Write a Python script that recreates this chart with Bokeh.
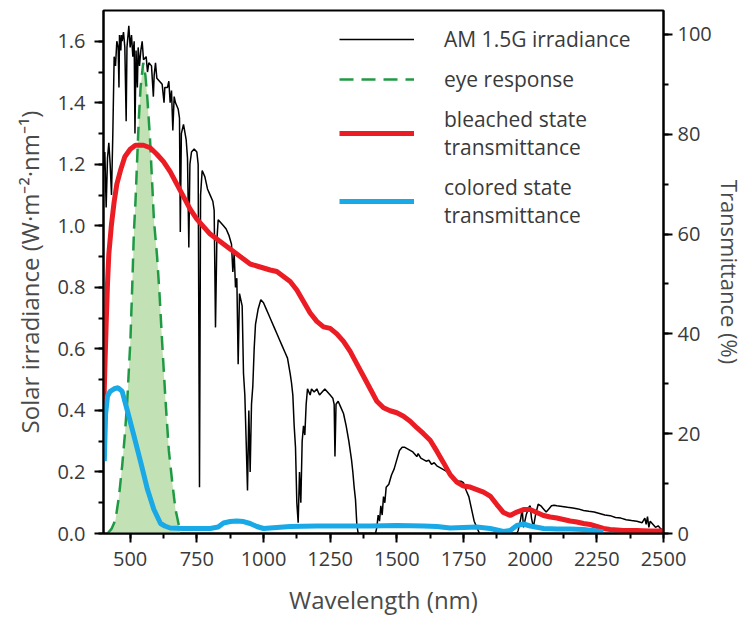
from bokeh.plotting import figure
from bokeh.models import (Range1d, LinearAxis, SingleIntervalTicker, NumeralTickFormatter,
                          Legend, LegendItem)
from bokeh.embed import file_html
from bokeh.resources import INLINE

# AM 1.5G solar irradiance (W m^-2 nm^-1)
am_wl = [400, 405, 410, 415, 420, 425, 430, 435, 440, 445, 450, 455, 458, 460, 465, 467, 470, 475, 480,
         485, 488, 495, 500, 505, 510, 515, 518, 522, 527, 530, 535, 540, 545, 550, 560, 565, 570, 580,
         587, 590, 595, 600, 610, 620, 627, 630, 640, 645, 650, 655, 660, 665, 670, 680, 685, 688, 692,
         700, 710, 715, 720, 724, 730, 740, 750, 755, 760, 764, 770, 780, 790, 800, 810, 815, 820, 825,
         830, 840, 850, 860, 870, 880, 885, 890, 895, 900, 905, 910, 920, 925, 930, 935, 940, 945, 950,
         955, 960, 965, 970, 980, 990, 1000, 1010, 1020, 1030, 1040, 1050, 1060, 1070, 1080, 1090, 1100,
         1105, 1110, 1115, 1120, 1125, 1130, 1135, 1140, 1145, 1150, 1155, 1160, 1165, 1175, 1180, 1190,
         1200, 1210, 1220, 1230, 1240, 1250, 1260, 1265, 1268, 1272, 1280, 1290, 1300, 1310, 1320, 1330,
         1335, 1340, 1345, 1350, 1355, 1400, 1420, 1425, 1430, 1435, 1440, 1445, 1450, 1455, 1460, 1470,
         1480, 1490, 1500, 1510, 1520, 1530, 1540, 1550, 1560, 1570, 1575, 1580, 1590, 1600, 1610, 1620,
         1630, 1640, 1650, 1660, 1670, 1680, 1690, 1700, 1710, 1720, 1730, 1740, 1750, 1760, 1770, 1780,
         1790, 1800, 1810, 1950, 1955, 1965, 1970, 1975, 1985, 1995, 2000, 2005, 2012, 2020, 2030, 2040,
         2050, 2060, 2070, 2080, 2090, 2100, 2120, 2140, 2160, 2180, 2200, 2220, 2240, 2260, 2280, 2300,
         2320, 2340, 2360, 2380, 2400, 2420, 2430, 2435, 2440, 2445, 2450, 2460, 2470, 2480, 2490, 2500]
am_irr = [1.18, 1.24, 1.06, 1.22, 1.27, 1.20, 1.10, 1.30, 1.55, 1.52, 1.60, 1.58, 1.45, 1.62, 1.57, 1.62,
          1.60, 1.63, 1.58, 1.34, 1.58, 1.65, 1.58, 1.62, 1.55, 1.60, 1.30, 1.57, 1.45, 1.58, 1.52, 1.57,
          1.60, 1.54, 1.55, 1.50, 1.53, 1.52, 1.42, 1.49, 1.53, 1.48, 1.47, 1.46, 1.40, 1.45, 1.45, 1.47,
          1.40, 1.44, 1.31, 1.42, 1.40, 1.38, 1.35, 0.98, 1.30, 1.33, 1.28, 1.22, 0.93, 1.20, 1.24, 1.25,
          1.24, 1.20, 0.15, 1.10, 1.18, 1.16, 1.12, 1.10, 1.08, 1.05, 0.67, 0.95, 1.02, 1.01, 1.00, 0.99,
          0.97, 0.94, 0.85, 0.91, 0.80, 0.83, 0.55, 0.78, 0.74, 0.52, 0.45, 0.30, 0.14, 0.40, 0.20, 0.42,
          0.48, 0.60, 0.68, 0.73, 0.76, 0.75, 0.73, 0.71, 0.69, 0.67, 0.65, 0.63, 0.61, 0.59, 0.57, 0.52,
          0.49, 0.45, 0.35, 0.28, 0.10, 0.035, 0.20, 0.10, 0.30, 0.35, 0.32, 0.42, 0.47, 0.45, 0.47, 0.46,
          0.47, 0.45, 0.46, 0.47, 0.46, 0.45, 0.44, 0.42, 0.25, 0.42, 0.43, 0.41, 0.39, 0.35, 0.30, 0.24,
          0.20, 0.15, 0.11, 0.03, 0.0, 0.0, 0.0, 0.02, 0.06, 0.04, 0.09, 0.06, 0.12, 0.10, 0.15, 0.16,
          0.19, 0.21, 0.24, 0.27, 0.28, 0.28, 0.275, 0.27, 0.265, 0.255, 0.25, 0.26, 0.245, 0.24, 0.235,
          0.238, 0.225, 0.23, 0.22, 0.215, 0.21, 0.205, 0.20, 0.185, 0.18, 0.175, 0.17, 0.17, 0.165, 0.14,
          0.12, 0.08, 0.04, 0.02, 0.0, 0.0, 0.01, 0.05, 0.08, 0.02, 0.06, 0.085, 0.09, 0.05, 0.02, 0.06,
          0.095, 0.09, 0.08, 0.07, 0.08, 0.09, 0.092, 0.09, 0.088, 0.085, 0.083, 0.08, 0.075, 0.072, 0.07,
          0.065, 0.06, 0.058, 0.052, 0.05, 0.045, 0.042, 0.04, 0.035, 0.05, 0.03, 0.055, 0.02, 0.04, 0.03,
          0.02, 0.025, 0.015, 0.01]

# photopic eye response (scaled to the irradiance axis)
eye_wl = [415, 430, 445, 458, 470, 480, 489, 501, 508, 514, 520, 526, 532, 539, 549, 557, 564, 574,
          583, 589, 601, 610, 620, 632, 645, 658, 670, 689]
eye_val = [0.0, 0.015, 0.045, 0.12, 0.22, 0.32, 0.43, 0.63, 0.81, 0.98, 1.08, 1.21, 1.34, 1.45, 1.53,
           1.49, 1.42, 1.29, 1.13, 1.02, 0.90, 0.78, 0.62, 0.44, 0.27, 0.165, 0.078, 0.0]

# bleached state transmittance (%)
bl_wl = [400, 405, 410, 415, 420, 430, 440, 450, 465, 480, 500, 520, 550, 575, 600, 625, 650, 675, 700,
         725, 750, 775, 800, 825, 850, 875, 900, 925, 950, 975, 1000, 1025, 1050, 1075, 1100, 1125,
         1150, 1175, 1200, 1225, 1250, 1275, 1300, 1325, 1350, 1375, 1400, 1425, 1450, 1475, 1500, 1525,
         1550, 1575, 1600, 1625, 1650, 1675, 1700, 1725, 1750, 1775, 1800, 1825, 1850, 1875, 1900, 1925,
         1950, 1975, 2000, 2025, 2050, 2075, 2100, 2125, 2150, 2175, 2200, 2225, 2250, 2275, 2300, 2350,
         2400, 2450, 2500]
bl_t = [23, 33, 42, 50, 56, 62, 66.5, 70, 73, 75.5, 77, 77.8, 77.8, 77.3, 76, 74.5, 72.5, 70, 67.5,
        65, 63, 61.5, 60, 59, 58, 57, 56, 55, 54, 53.6, 53.2, 52.8, 52.5, 51.5, 50.5, 48.8,
        46.5, 44.2, 42.5, 41.4, 41.1, 40.0, 38.5, 36.5, 34, 31.5, 29, 26.5, 25.2, 24.6, 24.2, 23.5,
        22.5, 21.2, 20, 18.7, 16.5, 14.2, 11.8, 10.3, 9.5, 9.3, 8.8, 8.3, 7.5, 5.8, 4.2, 3.6,
        4.3, 4.8, 4.8, 4.2, 3.6, 3.3, 3.1, 2.8, 2.5, 2.3, 2.0, 1.8, 1.4, 1.0, 0.8, 0.6,
        0.6, 0.5, 0.5]

# colored state transmittance (%)
co_wl = [403, 408, 415, 425, 440, 455, 470, 490, 513, 539, 565, 589, 614, 630, 650, 700, 750, 800,
         830, 850, 875, 900, 925, 950, 975, 1000, 1050, 1100, 1200, 1300, 1400, 1500, 1600, 1650, 1700,
         1750, 1800, 1850, 1900, 1925, 1950, 1975, 2000, 2050, 2100, 2150, 2200, 2250, 2275]
co_t = [14.5, 24, 27.5, 28.5, 29.0, 29.2, 28.5, 24.5, 19.8, 14.4, 8.8, 4.8, 2.0, 1.5, 1.1, 1.0, 1.0, 1.0,
        1.3, 2.1, 2.4, 2.5, 2.4, 2.0, 1.4, 1.0, 1.2, 1.4, 1.5, 1.5, 1.5, 1.6, 1.5, 1.4, 1.1,
        1.2, 1.3, 1.0, 0.4, 0.6, 1.6, 1.9, 1.5, 1.0, 0.9, 0.9, 0.8, 0.5, 0.3]

labels = ["AM 1.5G irradiance", "eye response", "bleached state\ntransmittance",
          "colored state\ntransmittance"]

FONT = "Open Sans"
TXT = "#3a3a3a"

p = figure(width=748, height=618, output_backend="svg", toolbar_location=None,
           x_range=Range1d(400, 2500), y_range=Range1d(0, 1.7),
           min_border_left=103, min_border_right=85, min_border_top=10, min_border_bottom=84)
p.extra_y_ranges = {"T": Range1d(0, 104.8)}
p.grid.visible = False
p.outline_line_color = "black"
p.outline_line_width = 2
p.outline_line_alpha = 1
p.background_fill_color = "white"
p.border_fill_color = "white"

fill = p.varea(x=eye_wl, y1=0, y2=eye_val, fill_color="#c2e1b4", fill_alpha=1)
am = p.line(am_wl, am_irr, line_color="black", line_width=1.5)
eye = p.line(eye_wl, eye_val, line_color="#1f9a44", line_width=2.5, line_dash="14 8")
bl = p.line(bl_wl, bl_t, y_range_name="T", line_color="#ec1c24", line_width=5)
co = p.line(co_wl, co_t, y_range_name="T", line_color="#18a9e6", line_width=5)

rax = LinearAxis(y_range_name="T", axis_label="Transmittance (%)")
p.add_layout(rax, "right")

p.xaxis.ticker = SingleIntervalTicker(interval=250, num_minor_ticks=2)
p.yaxis[0].ticker = SingleIntervalTicker(interval=0.2, num_minor_ticks=2)
p.yaxis[0].formatter = NumeralTickFormatter(format="0.0")
rax.ticker = SingleIntervalTicker(interval=20, num_minor_ticks=2)
p.xaxis.axis_label = "Wavelength (nm)"
p.yaxis[0].axis_label = "Solar irradiance (W·m⁻²·nm⁻¹)"

for ax in [p.xaxis[0], p.yaxis[0], rax]:
    ax.axis_line_width = 2
    ax.axis_line_color = "black"
    ax.major_tick_in = 0
    ax.major_tick_out = 9
    ax.minor_tick_in = 0
    ax.minor_tick_out = 5
    ax.major_tick_line_width = 2
    ax.minor_tick_line_width = 2
    ax.major_tick_line_color = "black"
    ax.minor_tick_line_color = "black"
    ax.major_label_text_font = FONT
    ax.major_label_text_font_size = "20px"
    ax.major_label_text_color = TXT
    ax.major_label_standoff = 9
    ax.axis_label_text_font = FONT
    ax.axis_label_text_font_size = "24px"
    ax.axis_label_text_font_style = "normal"
    ax.axis_label_text_color = "#4a4a4a"
    ax.axis_label_standoff = 8

p.xaxis[0].axis_label_standoff = 14
rax.axis_label_standoff = 0
rax.major_label_standoff = 5
rax.axis_label_text_font_size = "22px"

legend = Legend(items=[LegendItem(label=labels[0], renderers=[am]),
                       LegendItem(label=labels[1], renderers=[eye]),
                       LegendItem(label=labels[2], renderers=[bl]),
                       LegendItem(label=labels[3], renderers=[co])],
                location=(232, 300), border_line_alpha=0, background_fill_alpha=0,
                glyph_width=75, glyph_height=20, label_standoff=30, spacing=12, padding=4,
                margin=0, label_text_font=FONT, label_text_font_size="21px",
                label_text_color=TXT)
p.add_layout(legend, "center")

open("out.html", "w").write(file_html(p, INLINE))
